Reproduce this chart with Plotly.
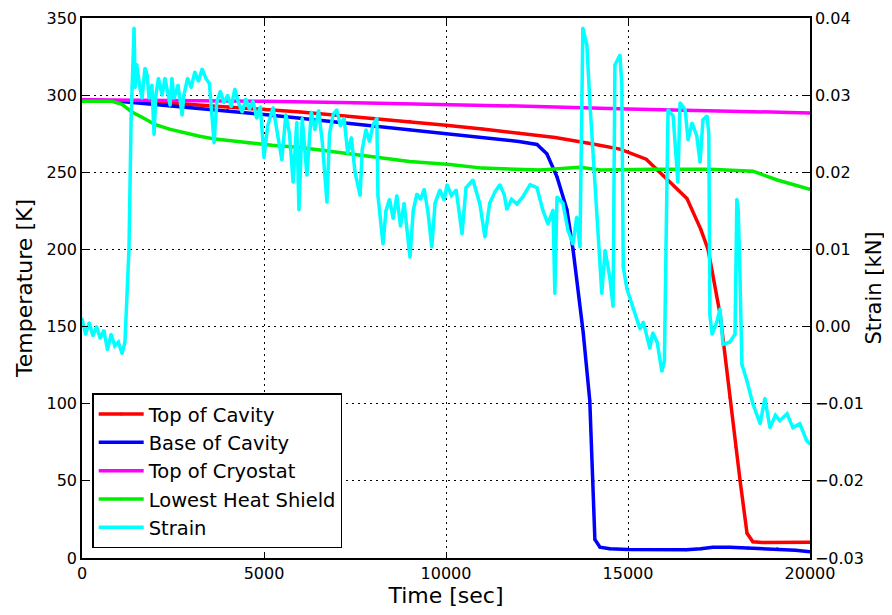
import plotly.graph_objects as go

# temperature sensors [K] vs time [sec]
top_cavity_t = [0, 1000, 2000, 3000, 4000, 5000, 6000, 7000, 8000, 9000, 10000, 11000,
                12000, 13000, 14000, 14780, 15500, 15960, 16620, 17000, 17200, 17530,
                17800, 17960, 18080, 18270, 18430, 18700, 19000, 20000]
top_cavity = [297, 296.5, 295.5, 294, 292.5, 291, 289, 287, 285, 283, 280.5, 278,
              275.5, 272.5, 268.5, 265, 258.5, 248, 233, 213, 200, 158,
              104, 72, 50, 16, 10.5, 10, 10, 10.2]

base_cavity_t = [0, 1000, 2000, 3000, 4000, 5000, 6000, 7000, 8000, 9000, 10000, 11000,
                 12000, 12500, 12770, 13050, 13320, 13490, 13770, 13950, 14040, 14090,
                 14230, 14500, 15000, 15500, 16000, 16600, 17000, 17330, 17800, 18300,
                 19100, 19600, 20000]
base_cavity = [297, 296, 294, 292, 290, 287.5, 285, 282.5, 280, 277.5, 275, 272.5,
               270, 268, 262, 247, 226, 200, 146, 102, 50, 12,
               7, 6, 5.5, 5.5, 5.5, 5.3, 6, 7, 7, 6.5,
               6, 5, 4]

top_cryostat_t = [0, 2500, 5000, 7500, 10000, 12500, 15000, 17500, 20000]
top_cryostat = [297, 296.6, 296, 295, 294, 292.7, 291, 289.8, 288.5]

heat_shield_t = [0, 820, 1100, 1370, 1700, 2000, 2400, 2750, 3200, 3660, 4580, 5220,
                 6000, 7640, 9000, 10100, 11000, 12580, 13680, 14230, 15050, 15690,
                 17250, 18430, 19100, 20000]
heat_shield = [296, 296, 294, 289, 285, 281, 278, 276, 273.5, 271.5, 269, 267.5,
               266, 261, 257, 255, 252.7, 251.5, 253.3, 251.5, 252, 252,
               252, 250.7, 245, 239]

# strain [kN]
strain_t = [0, 100, 200, 300, 400, 500, 600, 700, 800, 900, 1000, 1100, 1180, 1290, 1350,
            1370, 1430, 1460, 1500, 1600, 1650, 1730, 1790, 1840, 1920, 1980, 2030, 2100,
            2150, 2200, 2280, 2340, 2420, 2470, 2530, 2640, 2750, 2800, 2900, 3000, 3100,
            3200, 3300, 3400, 3500, 3630, 3700, 3800, 3900, 4000, 4100, 4200, 4300, 4400,
            4500, 4600, 4700, 4800, 4900, 5000, 5100, 5250, 5350, 5490, 5600, 5700, 5800,
            5900, 5960, 6050, 6180, 6300, 6400, 6500, 6600, 6730, 6800, 6900, 7000, 7100,
            7200, 7300, 7400, 7500, 7640, 7700, 7800, 7900, 8000, 8100, 8130, 8200, 8270,
            8350, 8450, 8550, 8650, 8750, 8850, 9010, 9100, 9200, 9300, 9400, 9500, 9610,
            9700, 9830, 9950, 10030, 10150, 10280, 10440, 10550, 10740, 10930, 11070, 11200,
            11350, 11480, 11600, 11670, 11800, 11950, 12110, 12310, 12500, 12660, 12800,
            12940, 12990, 13050, 13210, 13350, 13490, 13590, 13680, 13760, 13870, 13950,
            14040, 14150, 14280, 14370, 14500, 14590, 14640, 14780, 14830, 14870, 14970,
            15140, 15330, 15420, 15600, 15680, 15800, 15930, 16000, 16070, 16100, 16240,
            16370, 16430, 16570, 16650, 16760, 16890, 16980, 17060, 17170, 17220, 17250,
            17310, 17440, 17530, 17610, 17800, 17940, 17990, 18030, 18080, 18130, 18270,
            18430, 18630, 18760, 18900, 19050, 19170, 19370, 19530, 19720, 19910, 20000]
strain = [0.001, -0.001, 0.0005, -0.0012, 0.0, -0.0015, -0.0005, -0.003, -0.001, -0.0025,
          -0.002, -0.0035, -0.002, 0.010, 0.027, 0.031, 0.0387, 0.031, 0.034, 0.0307,
          0.0296, 0.0335, 0.0326, 0.0296, 0.0313, 0.0249, 0.0300, 0.0322, 0.0313, 0.030,
          0.0322, 0.0305, 0.0287, 0.0322, 0.0296, 0.0313, 0.0274, 0.0300, 0.0322, 0.0310,
          0.0330, 0.0318, 0.0334, 0.0322, 0.0315, 0.0238, 0.0290, 0.0305, 0.0290, 0.0300,
          0.0285, 0.0308, 0.0290, 0.0278, 0.0295, 0.0282, 0.0292, 0.0270, 0.0285, 0.0219,
          0.0260, 0.0284, 0.0255, 0.0216, 0.0275, 0.0250, 0.0187, 0.0265, 0.0151, 0.0270,
          0.0196, 0.0278, 0.0255, 0.0280, 0.0240, 0.0161, 0.0250, 0.0275, 0.0281, 0.0260,
          0.0270, 0.0225, 0.0245, 0.0200, 0.0170, 0.0230, 0.0255, 0.0240, 0.0262, 0.0270,
          0.0170, 0.0140, 0.0107, 0.0150, 0.0165, 0.0140, 0.0170, 0.0130, 0.0160, 0.0090,
          0.0150, 0.0172, 0.0165, 0.0178, 0.0150, 0.0103, 0.0160, 0.0177, 0.0164, 0.0184,
          0.0170, 0.0177, 0.0120, 0.0180, 0.0190, 0.0159, 0.0116, 0.0160, 0.0175, 0.0184,
          0.0171, 0.0152, 0.0165, 0.0159, 0.0168, 0.0184, 0.0180, 0.0151, 0.0133, 0.0151,
          0.0043, 0.0168, 0.0160, 0.0125, 0.0107, 0.0142, 0.0103, 0.0387, 0.0365, 0.0293,
          0.0219, 0.0142, 0.0043, 0.0099, 0.0064, 0.0026, 0.0339, 0.0352, 0.0313, 0.0077,
          0.0049, 0.0023, -0.0003, 0.0006, -0.0028, -0.0008, -0.002, -0.0058, -0.0045,
          0.0187, 0.0281, 0.0273, 0.0187, 0.029, 0.0281, 0.0242, 0.0264, 0.0247, 0.0213,
          0.0268, 0.0273, 0.0250, 0.0015, -0.001, 0.0006, 0.0023, -0.0023, -0.002, -0.001,
          0.0165, 0.0150, 0.0058, -0.0049, -0.0071, -0.01, -0.0126, -0.0093, -0.0131,
          -0.0115, -0.0122, -0.0113, -0.0131, -0.0126, -0.0148, -0.0152]

time_ticks = [0, 5000, 10000, 15000, 20000]
temp_ticks = [0, 50, 100, 150, 200, 250, 300, 350]
strain_ticks = [-0.03, -0.02, -0.01, 0.0, 0.01, 0.02, 0.03, 0.04]

font = "DejaVu Sans, Verdana, sans-serif"
grid_dash = "2px,4px"

fig = go.Figure()

def add(x, y, name, color, axis="y"):
    fig.add_trace(go.Scatter(x=x, y=y, name=name, yaxis=axis, mode="lines+markers",
                             line=dict(color=color, width=3.5),
                             marker=dict(color=color, size=3)))

add(top_cavity_t, top_cavity, "Top of Cavity", "#ff0000")
add(base_cavity_t, base_cavity, "Base of Cavity", "#0000ff")
add(top_cryostat_t, top_cryostat, "Top of Cryostat", "#ff00ff")
add(heat_shield_t, heat_shield, "Lowest Heat Shield", "#00ee00")
add(strain_t, strain, "Strain", "#00ffff", axis="y2")

# page body adds an 8px offset; margins shifted so the plot lands near 82..810 x 18..558
fig.update_layout(
    width=892, height=615,
    margin=dict(l=74, r=90, t=10, b=65),
    paper_bgcolor="white", plot_bgcolor="white",
    font=dict(family=font, size=16, color="black"),
    showlegend=True,
    legend=dict(x=0.014, y=0.018, xanchor="left", yanchor="bottom",
                bgcolor="white", bordercolor="black", borderwidth=1.5,
                font=dict(size=19.5), itemwidth=45),
    xaxis=dict(range=[0, 20000], tickvals=time_ticks, ticktext=[str(v) for v in time_ticks],
               automargin=False, ticklabeloverflow="allow",
               showline=True, linecolor="black", linewidth=1.5, mirror="ticks",
               ticks="inside", ticklen=6, tickcolor="black",
               showgrid=True, gridcolor="black", griddash=grid_dash, gridwidth=1,
               zeroline=False,
               title=dict(text="Time [sec]", font=dict(size=22), standoff=6)),
    yaxis=dict(range=[0, 350], tickvals=temp_ticks,
               automargin=False, ticklabeloverflow="allow",
               showline=True, linecolor="black", linewidth=1.5,
               ticks="inside", ticklen=6, tickcolor="black",
               showgrid=True, gridcolor="black", griddash=grid_dash, gridwidth=1,
               zeroline=False,
               title=dict(text="Temperature [K]", font=dict(size=22), standoff=8)),
    yaxis2=dict(range=[-0.03, 0.04], overlaying="y", side="right",
                tickvals=strain_ticks, tickformat=".2f",
                automargin=False, ticklabeloverflow="allow",
                showline=True, linecolor="black", linewidth=1.5,
                ticks="inside", ticklen=6, tickcolor="black",
                showgrid=False, zeroline=False,
                title=dict(text="Strain [kN]", font=dict(size=21), standoff=3)),
)

fig.write_html("out.html")
